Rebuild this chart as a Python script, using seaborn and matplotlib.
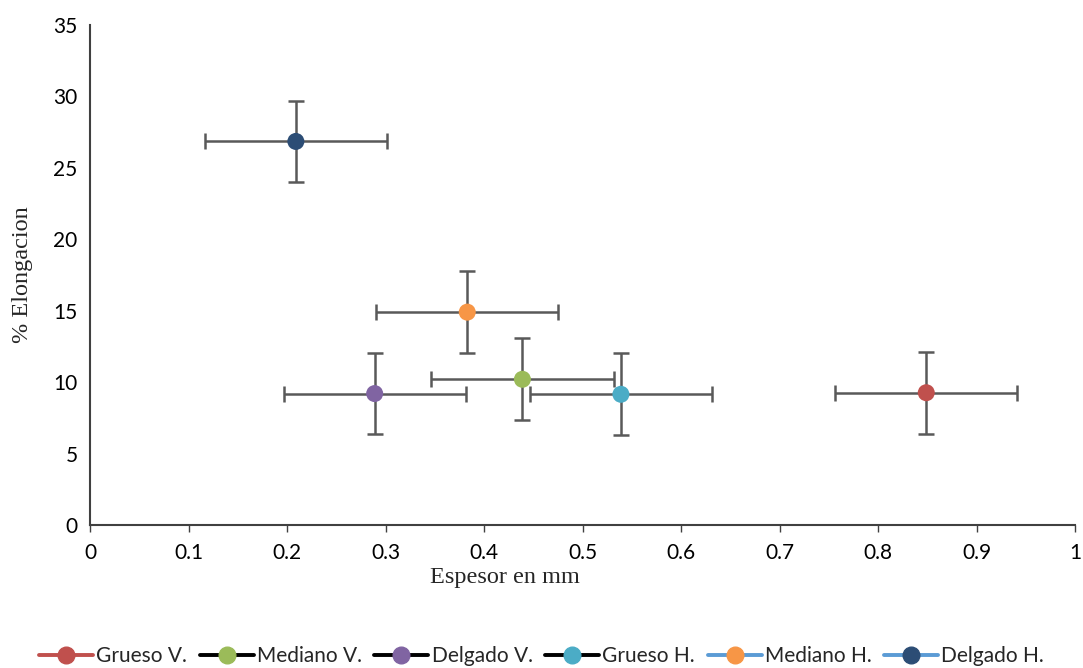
import matplotlib
matplotlib.use("Agg")
import matplotlib.pyplot as plt
from matplotlib.lines import Line2D
import seaborn as sns
import pandas as pd

series = ["Grueso V.", "Mediano V.", "Delgado V.", "Grueso H.", "Mediano H.", "Delgado H."]
espesor = [0.849, 0.439, 0.289, 0.539, 0.383, 0.209]
elongacion = [9.26, 10.2, 9.2, 9.15, 14.9, 26.85]
x_err = [0.0925, 0.0925, 0.0925, 0.0925, 0.0925, 0.0925]
y_err = [2.86, 2.86, 2.86, 2.86, 2.86, 2.86]
marker_colors = ["#C0504D", "#9BBB59", "#8064A2", "#4BACC6", "#F79646", "#2C4D75"]
legend_line_colors = ["#C0504D", "#000000", "#000000", "#000000", "#5B9BD5", "#5B9BD5"]
x_ticks = [0, 0.1, 0.2, 0.3, 0.4, 0.5, 0.6, 0.7, 0.8, 0.9, 1]
x_tick_labels = ["0", "0.1", "0.2", "0.3", "0.4", "0.5", "0.6", "0.7", "0.8", "0.9", "1"]
y_ticks = [0, 5, 10, 15, 20, 25, 30, 35]

df = pd.DataFrame({"serie": series, "x": espesor, "y": elongacion, "xe": x_err, "ye": y_err})

sns.set_style("white")
plt.rcParams["font.family"] = ["Lato", "DejaVu Sans"]

fig = plt.figure(figsize=(10.83, 6.68), dpi=100)
ax = fig.add_axes([90 / 1083, 1 - 525 / 668, (1075 - 90) / 1083, 500 / 668])

ax.errorbar(df["x"], df["y"], xerr=df["xe"], yerr=df["ye"], fmt="none",
            ecolor="#595959", elinewidth=1.8, capsize=5.5, capthick=1.8, zorder=2)
sns.scatterplot(data=df, x="x", y="y", hue="serie", palette=marker_colors,
                s=150, edgecolor=None, linewidth=0, legend=False, zorder=3, ax=ax)

ax.set_xlim(0, 1)
ax.set_ylim(0, 35)
ax.set_xticks(x_ticks)
ax.set_xticklabels(x_tick_labels)
ax.set_yticks(y_ticks)
ax.tick_params(axis="x", direction="out", length=5, width=1, color="#404040",
               labelsize=15, pad=8, bottom=True)
ax.tick_params(axis="y", length=0, labelsize=15, pad=9)
for lbl in ax.get_xticklabels() + ax.get_yticklabels():
    lbl.set_color("#000000")

for side in ["top", "right"]:
    ax.spines[side].set_visible(False)
for side in ["left", "bottom"]:
    ax.spines[side].set_color("#404040")
    ax.spines[side].set_linewidth(1.5)

ax.set_xlabel("Espesor en mm", family="Liberation Serif", fontsize=17.5)
ax.set_ylabel("% Elongacion", family="Liberation Serif", fontsize=17.5)
ax.xaxis.set_label_coords((505 - 90) / 985, -0.085)
ax.yaxis.set_label_coords(-0.058, 0.5)

handles = [Line2D([0], [0], color=lc, lw=2.8, marker="o", markersize=12,
                  markerfacecolor=mc, markeredgecolor=mc)
           for lc, mc in zip(legend_line_colors, marker_colors)]
fig.legend(handles, series, loc="center", bbox_to_anchor=(0.5, 1 - 656 / 668),
           ncol=6, frameon=False, fontsize=15, handlelength=2.6,
           handletextpad=0.15, columnspacing=0.6)

fig.savefig("out.png", dpi=100)
